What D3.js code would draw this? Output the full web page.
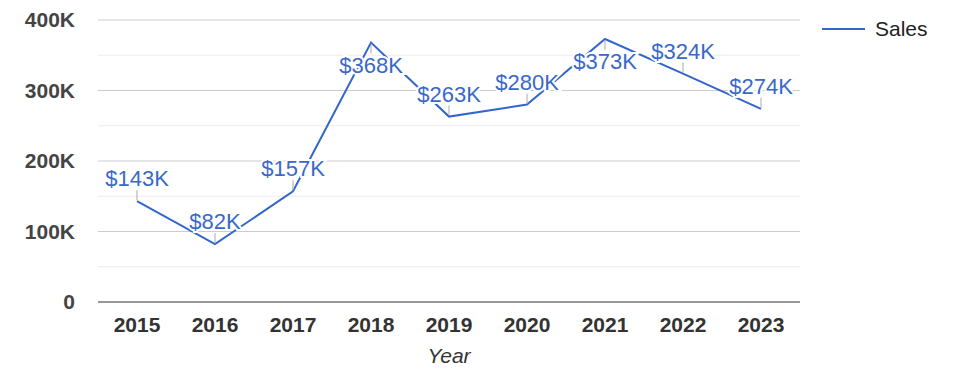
<!DOCTYPE html>
<html lang="en">
<head>
  <meta charset="UTF-8">
  <title>Sales</title>
  <script src="https://d3js.org/d3.v7.min.js"></script>
  <style>
    body { margin: 0; background: #fff; }
    svg { font-family: "Liberation Sans", Arial, sans-serif; display: block; }
  </style>
</head>
<body>
  <div class="canvas"></div>
  <script>
    const years = ['2015', '2016', '2017', '2018', '2019', '2020', '2021', '2022', '2023'];
    const sales = [143, 82, 157, 368, 263, 280, 373, 324, 274];
    const yTicks = [0, 100, 200, 300, 400];
    const minorTicks = [50, 150, 250, 350];

    const width = 975;
    const height = 378;
    const [mt, mb, mr, ml] = [20, 76, 175, 98];
    const graphWidth = width - (ml + mr);
    const graphHeight = height - (mt + mb);
    const blue = '#3366cc';

    const svg = d3.select('.canvas')
                    .append('svg')
                    .attr('width', width)
                    .attr('height', height);

    const graph = svg.append('g')
                      .attr('transform', `translate(${ml}, ${mt})`);

    const x = d3.scaleBand()
                  .domain(years)
                  .range([0, graphWidth]);

    const y = d3.scaleLinear()
                  .domain([0, 400])
                  .range([graphHeight, 0]);

    // grid lines
    graph.selectAll('.minor').data(minorTicks).enter()
      .append('line')
      .attr('x1', 0).attr('x2', graphWidth)
      .attr('y1', d => y(d)).attr('y2', d => y(d))
      .attr('stroke', '#ebebeb');

    graph.selectAll('.major').data(yTicks.slice(1)).enter()
      .append('line')
      .attr('x1', 0).attr('x2', graphWidth)
      .attr('y1', d => y(d)).attr('y2', d => y(d))
      .attr('stroke', '#cccccc');

    graph.append('line')
      .attr('x1', 0).attr('x2', graphWidth)
      .attr('y1', y(0)).attr('y2', y(0))
      .attr('stroke', '#333');

    // y axis labels
    graph.selectAll('.ylab').data(yTicks).enter()
      .append('text')
      .attr('x', -23)
      .attr('y', d => y(d))
      .attr('dy', '0.35em')
      .attr('text-anchor', 'end')
      .attr('font-size', 21)
      .attr('font-weight', 'bold')
      .attr('fill', '#444')
      .text(d => d === 0 ? '0' : d + 'K');

    // x axis labels
    graph.selectAll('.xlab').data(years).enter()
      .append('text')
      .attr('x', d => x(d) + x.bandwidth() / 2)
      .attr('y', graphHeight + 30)
      .attr('text-anchor', 'middle')
      .attr('font-size', 21)
      .attr('font-weight', 'bold')
      .attr('fill', '#333')
      .text(d => d);

    graph.append('text')
      .attr('x', graphWidth / 2)
      .attr('y', graphHeight + 61)
      .attr('text-anchor', 'middle')
      .attr('font-size', 21)
      .attr('font-style', 'italic')
      .attr('fill', '#333')
      .text('Year');

    const cx = (d, i) => x(years[i]) + x.bandwidth() / 2;
    // labels that would leave the plot go below the point
    const below = d => y(d) - 31 < 0;

    // line
    const line = d3.line()
                    .x((d, i) => cx(d, i))
                    .y(d => y(d));

    graph.append('path')
      .datum(sales)
      .attr('d', line)
      .attr('fill', 'none')
      .attr('stroke', blue)
      .attr('stroke-width', 2);

    // leader lines
    graph.selectAll('.leader').data(sales).enter()
      .append('line')
      .attr('x1', cx).attr('x2', cx)
      .attr('y1', d => below(d) ? y(d) + 1 : y(d) - 1)
      .attr('y2', d => below(d) ? y(d) + 11 : y(d) - 11)
      .attr('stroke', '#aaa');

    // data labels with white halo
    graph.selectAll('.dlab').data(sales).enter()
      .append('text')
      .attr('x', cx)
      .attr('y', d => below(d) ? y(d) + 30 : y(d) - 15)
      .attr('text-anchor', 'middle')
      .attr('font-size', 22)
      .attr('fill', '#3a68c9')
      .attr('stroke', '#fff')
      .attr('stroke-width', 4)
      .attr('paint-order', 'stroke')
      .text(d => '$' + d + 'K');

    // legend
    const legend = svg.append('g').attr('transform', `translate(822, 29)`);
    legend.append('line')
      .attr('x1', 0).attr('x2', 43)
      .attr('stroke', blue).attr('stroke-width', 2);
    legend.append('text')
      .attr('x', 53).attr('dy', '0.35em')
      .attr('font-size', 21)
      .attr('fill', '#222')
      .text('Sales');
  </script>
</body>
</html>
